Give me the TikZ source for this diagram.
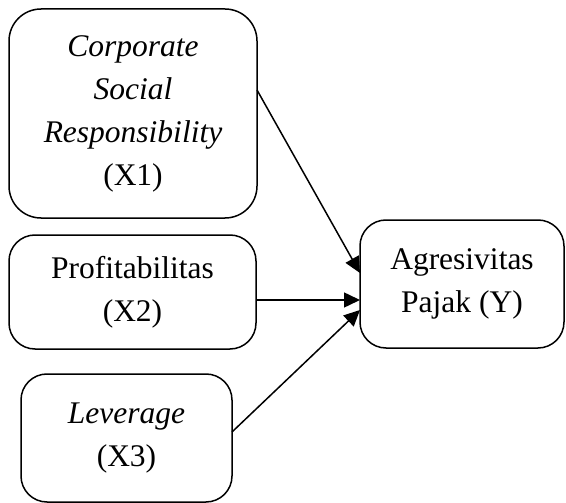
\documentclass[tikz,border=0pt]{standalone}
\usepackage{fontspec}
\setmainfont{Liberation Serif}
\usetikzlibrary{arrows.meta}
\begin{document}
\begin{tikzpicture}[x=1pt,y=-1pt,
  box/.style={draw,line width=1.5pt,rounded corners=#1,align=center,outer sep=0pt,inner sep=0pt,
    font=\fontsize{31.5}{43}\selectfont},
  box/.default=26pt,
  conn/.style={line width=1.5pt,-{Triangle[length=16pt,width=15pt]}}]
\useasboundingbox (0,0) rectangle (566,503);
\node[box=32pt,minimum width=248pt,minimum height=209pt] (b1) at (133,113.5)
  {\textit{Corporate}\\\textit{Social}\\\textit{Responsibility}\\(X1)};
\node[box,minimum width=247pt,minimum height=114pt] (b2) at (132.5,292)
  {Profitabilitas\\(X2)};
\node[box,minimum width=211pt,minimum height=128pt] (b3) at (126.5,438)
  {\textit{Leverage}\\(X3)};
\node[box,minimum width=204pt,minimum height=128pt] (y) at (462,284)
  {Agresivitas\\Pajak (Y)};
\draw[conn] ([yshift=23.5pt]b1.east) -- ([yshift=11pt]y.west);
\draw[conn] ([yshift=-8pt]b2.east) -- ([yshift=-16pt]y.west);
\draw[conn] ([yshift=6pt]b3.east) -- ([yshift=-26pt]y.west);
\end{tikzpicture}
\end{document}
